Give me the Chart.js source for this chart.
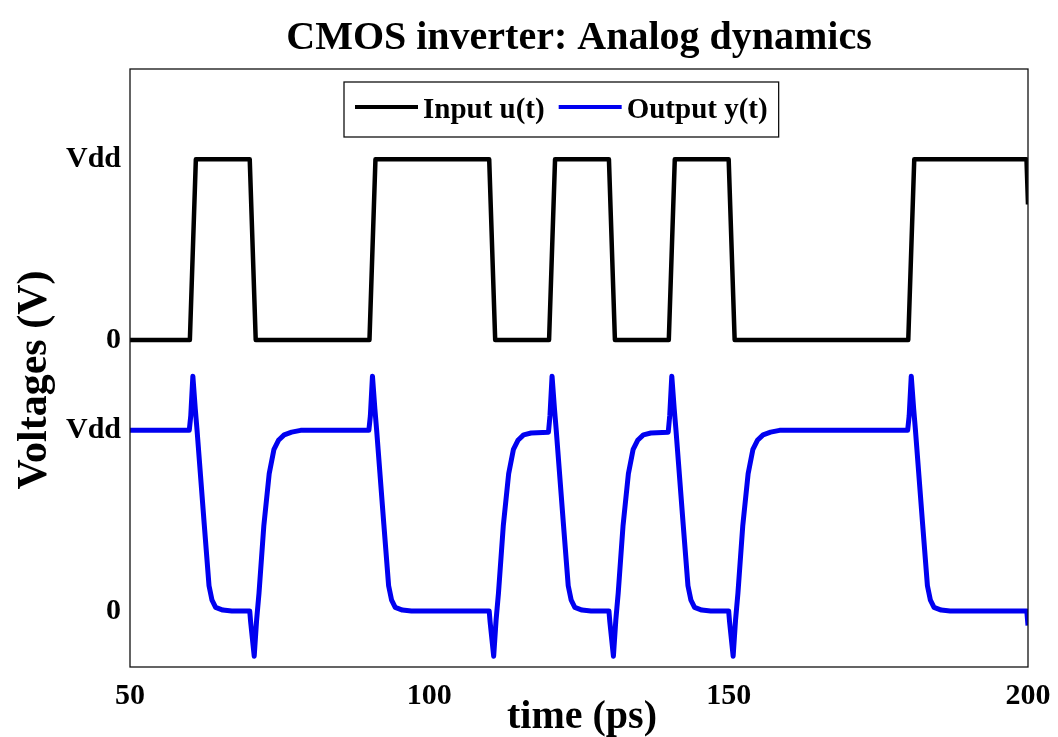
<!DOCTYPE html>
<html>
<head>
<meta charset="utf-8">
<script src="https://cdn.jsdelivr.net/npm/chart.js@4.4.1/dist/chart.umd.min.js"></script>
<style>
  html, body { margin: 0; padding: 0; background: #ffffff; }
  canvas { display: block; }
</style>
</head>
<body>
<canvas id="chart" width="1058" height="737"></canvas>
<script>
// ---- text ----
const titleText = 'CMOS inverter: Analog dynamics';
const xTitle = 'time (ps)';
const yTitle = 'Voltages (V)';
const seriesNames = ['Input u(t)', 'Output y(t)'];

// ---- axis ticks ----
const xTicks = [50, 100, 150, 200];
const yTickValues = [0, 1, 1.5, 2.5];
const yTickLabels = ['0', 'Vdd', '0', 'Vdd'];

// the input trace is stacked above the output trace by this many Vdd
const inputOffset = 1.5;

// ---- input u(t), in units of Vdd ----
const inputTime  = [50, 60, 61, 70, 71, 90, 91, 110, 111, 120, 121, 130, 131, 140, 141, 150, 151, 180, 181, 199.75, 200];
const inputLevel = [0,  0,  1,  1,  0,  0,  1,  1,   0,   0,   1,   1,   0,   0,   1,   1,   0,   0,   1,   1,      0.75];

// ---- output y(t), in units of Vdd ----
const outputTime = [
  50, 59.9, 60.15, 60.5, 60.9, 61.2, 62.4, 63.2, 63.7, 64.3, 65.5, 67,
  70, 70.15, 70.75, 71.15, 71.55, 72.35, 73.25, 74.05, 74.8, 75.75, 77, 78.5,
  89.9, 90.15, 90.5, 90.9, 91.2, 92.4, 93.2, 93.7, 94.3, 95.5, 97,
  110, 110.15, 110.75, 111.15, 111.55, 112.35, 113.25, 114.05, 114.8, 115.75, 117, 119.9,
  120.15, 120.5, 120.9, 121.2, 122.4, 123.2, 123.7, 124.3, 125.5, 127,
  130, 130.15, 130.75, 131.15, 131.55, 132.35, 133.25, 134.05, 134.8, 135.75, 137, 139.9,
  140.15, 140.5, 140.9, 141.2, 142.4, 143.2, 143.7, 144.3, 145.5, 147,
  150, 150.15, 150.75, 151.15, 151.55, 152.35, 153.25, 154.05, 154.8, 155.75, 157, 158.5,
  179.9, 180.15, 180.5, 180.9, 181.2, 182.4, 183.2, 183.7, 184.3, 185.5, 187,
  199.8, 200
];
const outputLevel = [
  1, 1, 1.08, 1.30, 1.12, 1.0, 0.48, 0.14, 0.06, 0.02, 0.005, 0,
  0, -0.06, -0.25, -0.05, 0.10, 0.47, 0.76, 0.895, 0.945, 0.975, 0.99, 1.0,
  1.0, 1.08, 1.30, 1.12, 1.0, 0.48, 0.14, 0.06, 0.02, 0.005, 0,
  0, -0.06, -0.25, -0.05, 0.10, 0.47, 0.76, 0.895, 0.945, 0.975, 0.985, 0.99,
  1.08, 1.30, 1.12, 1.0, 0.48, 0.14, 0.06, 0.02, 0.005, 0,
  0, -0.06, -0.25, -0.05, 0.10, 0.47, 0.76, 0.895, 0.945, 0.975, 0.985, 0.99,
  1.08, 1.30, 1.12, 1.0, 0.48, 0.14, 0.06, 0.02, 0.005, 0,
  0, -0.06, -0.25, -0.05, 0.10, 0.47, 0.76, 0.895, 0.945, 0.975, 0.99, 1.0,
  1.0, 1.08, 1.30, 1.12, 1.0, 0.48, 0.14, 0.06, 0.02, 0.005, 0,
  0, -0.08
];

const serif = "'Liberation Serif', 'Times New Roman', serif";
const inputColor = '#000000';
const outputColor = '#0000f0';

const inputPoints = inputTime.map((t, i) => ({ x: t, y: inputLevel[i] + inputOffset }));
const outputPoints = outputTime.map((t, i) => ({ x: t, y: outputLevel[i] }));

// frame, title, axis titles and the boxed legend inside the plot
const decorations = {
  id: 'decorations',
  afterDraw(chart) {
    const { ctx, chartArea: a } = chart;
    const cx = (a.left + a.right) / 2;
    ctx.save();

    ctx.strokeStyle = '#111111';
    ctx.lineWidth = 1.3;
    ctx.strokeRect(a.left, a.top, a.right - a.left, a.bottom - a.top);

    ctx.fillStyle = '#000000';
    ctx.textAlign = 'center';
    ctx.textBaseline = 'alphabetic';
    ctx.font = 'bold 40px ' + serif;
    ctx.fillText(titleText, cx, 49);

    ctx.font = 'bold 40px ' + serif;
    ctx.fillText(xTitle, cx + 3, 728);

    ctx.save();
    ctx.translate(46, 380);
    ctx.rotate(-Math.PI / 2);
    ctx.font = 'bold 42px ' + serif;
    ctx.fillText(yTitle, 0, 0);
    ctx.restore();

    // legend
    const ds = chart.data.datasets;
    ctx.font = 'bold 29px ' + serif;
    const left = a.left + 214, top = a.top + 13, h = 55;
    const pad = 11, sample = 63, gapText = 5, gapItem = 14;
    const widths = ds.map(d => ctx.measureText(d.label).width);
    let w = pad;
    ds.forEach((d, i) => { w += sample + gapText + widths[i] + (i < ds.length - 1 ? gapItem : 0); });
    w += pad;
    ctx.fillStyle = '#ffffff';
    ctx.fillRect(left, top, w, h);
    ctx.strokeStyle = '#111111';
    ctx.lineWidth = 1.3;
    ctx.strokeRect(left, top, w, h);
    let x = left + pad;
    ds.forEach((d, i) => {
      ctx.strokeStyle = d.borderColor;
      ctx.lineWidth = 4;
      ctx.beginPath();
      ctx.moveTo(x, top + 25);
      ctx.lineTo(x + sample, top + 25);
      ctx.stroke();
      x += sample + gapText;
      ctx.fillStyle = '#000000';
      ctx.textAlign = 'left';
      ctx.textBaseline = 'middle';
      ctx.fillText(d.label, x, top + 29);
      x += widths[i] + gapItem;
    });

    ctx.restore();
  }
};

new Chart(document.getElementById('chart'), {
  type: 'line',
  data: {
    datasets: [
      { label: seriesNames[0], data: inputPoints, borderColor: inputColor, backgroundColor: inputColor, borderWidth: 4.5 },
      { label: seriesNames[1], data: outputPoints, borderColor: outputColor, backgroundColor: outputColor, borderWidth: 5 }
    ]
  },
  options: {
    responsive: false,
    animation: false,
    events: [],
    layout: { padding: { top: 69, right: 30, left: 0, bottom: 0 } },
    elements: {
      point: { radius: 0 },
      line: { tension: 0, borderJoinStyle: 'round', borderCapStyle: 'butt' }
    },
    plugins: {
      legend: { display: false },
      title: { display: false },
      tooltip: { enabled: false }
    },
    scales: {
      x: {
        type: 'linear',
        min: xTicks[0],
        max: xTicks[xTicks.length - 1],
        grid: { display: false, drawTicks: false },
        border: { display: false },
        afterBuildTicks(scale) { scale.ticks = xTicks.map(v => ({ value: v })); },
        afterFit(scale) {
          scale.height = 70;
          scale.paddingLeft = 0;
          scale.paddingRight = 0;
        },
        ticks: {
          padding: 11,
          color: '#000000',
          font: { family: serif, size: 30, weight: 'bold' },
          maxRotation: 0
        }
      },
      y: {
        type: 'linear',
        min: -0.31,
        max: 3.0,
        grid: { display: false, drawTicks: false },
        border: { display: false },
        afterBuildTicks(scale) { scale.ticks = yTickValues.map(v => ({ value: v })); },
        afterFit(scale) {
          scale.width = 130;
          scale.paddingTop = 0;
          scale.paddingBottom = 0;
        },
        ticks: {
          padding: 9,
          color: '#000000',
          font: { family: serif, size: 30, weight: 'bold' },
          callback(value) {
            const i = yTickValues.indexOf(value);
            return i >= 0 ? yTickLabels[i] : '';
          }
        }
      }
    }
  },
  plugins: [decorations]
});
</script>
</body>
</html>
